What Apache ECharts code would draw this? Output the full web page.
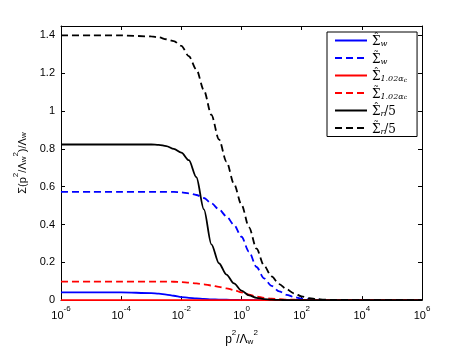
<!DOCTYPE html>
<html>
<head>
<meta charset="utf-8">
<script src="https://cdn.jsdelivr.net/npm/echarts@6/dist/echarts.min.js"></script>
<style>
	html, body { margin: 0; padding: 0; background: #fff; }
	#main { width: 467px; height: 351px; }
</style>
</head>
<body>
<div id="main"></div>
<script>
// x = p^2 / Lambda_w^2 (log spaced)
var xVals = [1e-6, 1e-5, 1e-4, 1e-3, 1.78e-3, 3.16e-3, 5.62e-3, 1e-2, 1.78e-2, 3.16e-2, 5.62e-2,
	0.1, 0.178, 0.316, 0.562, 1, 1.78, 3.16, 5.62, 10, 17.8, 31.6, 56.2, 100, 178, 316, 562, 1000, 1e4, 1e5, 1e6];

var sigWHat = [0.041, 0.041, 0.041, 0.037, 0.034, 0.029, 0.023, 0.016, 0.012, 0.009, 0.006,
	0.004, 0.003, 0.002, 0.001, 0, 0, 0, 0, 0, 0, 0, 0, 0, 0, 0, 0, 0, 0, 0, 0];
var sigWTil = [0.573, 0.573, 0.573, 0.573, 0.573, 0.573, 0.572, 0.570, 0.565, 0.556, 0.540,
	0.512, 0.480, 0.443, 0.398, 0.335, 0.255, 0.175, 0.115, 0.075, 0.046, 0.028, 0.016, 0.008, 0.004, 0.002, 0.001, 0, 0, 0, 0];
var sigCHat = [0, 0, 0, 0, 0, 0, 0, 0, 0, 0, 0,
	0, 0, 0, 0, 0, 0, 0, 0, 0, 0, 0, 0, 0, 0, 0, 0, 0, 0, 0, 0];
var sigCTil = [0.098, 0.098, 0.098, 0.098, 0.098, 0.098, 0.097, 0.095, 0.092, 0.088, 0.083,
	0.077, 0.070, 0.062, 0.053, 0.041, 0.029, 0.019, 0.012, 0.008, 0.005, 0.003, 0.002, 0.001, 0, 0, 0, 0, 0, 0, 0];
var sigRHat = [0.823, 0.823, 0.823, 0.823, 0.821, 0.815, 0.800, 0.780, 0.740, 0.650, 0.480,
	0.295, 0.195, 0.135, 0.088, 0.050, 0.025, 0.012, 0.005, 0.002, 0.001, 0, 0, 0, 0, 0, 0, 0, 0, 0, 0];
var sigRTil = [1.400, 1.400, 1.400, 1.395, 1.390, 1.380, 1.370, 1.345, 1.290, 1.220, 1.110,
	0.980, 0.850, 0.733, 0.615, 0.505, 0.385, 0.272, 0.182, 0.125, 0.085, 0.057, 0.035, 0.020, 0.010, 0.005, 0.003, 0.001, 0, 0, 0];

function pairs(ys) {
	return xVals.map(function(x, i) { return [x, ys[i]]; });
}

// hat / tilde drawn as zero-width accents over the sigma
var legendText = {
	wHat: '{s|Σ}{h|ˆ}{sub|w}',
	wTil: '{s|Σ}{h|˜}{sub|w}',
	cHat: '{s|Σ}{h|ˆ}{sub|1.02α}{ss|c}',
	cTil: '{s|Σ}{h|˜}{sub|1.02α}{ss|c}',
	rHat: '{s|Σ}{h|ˆ}{sub|r}{s|/5}',
	rTil: '{s|Σ}{h|˜}{sub|r}{s|/5}'
};

function mkSeries(name, ys, color, dashed) {
	return {
		name: name,
		type: 'line',
		data: pairs(ys),
		smooth: 0.3,
		smoothMonotone: 'x',
		symbol: 'none',
		lineStyle: { color: color, width: 1.8, type: dashed ? [7, 4] : 'solid' },
		itemStyle: { color: color },
		z: 3
	};
}

var myChart = echarts.init(document.getElementById('main'));
var font = 'Liberation Sans';
var serif = 'DejaVu Serif';

var option = {
	animation: false,
	backgroundColor: '#fff',
	grid: { left: 61, right: 45, top: 26, bottom: 44, show: false },
	legend: {
		left: 327, top: 32,
		orient: 'vertical',
		backgroundColor: '#fff',
		borderColor: '#000', borderWidth: 1,
		padding: [1, 10, 1, 7],
		itemWidth: 32, itemHeight: 12, itemGap: 2.5,
		itemStyle: { opacity: 0 },
		data: ['wHat', 'wTil', 'cHat', 'cTil', 'rHat', 'rTil'],
		formatter: function(name) { return legendText[name]; },
		textStyle: {
			color: '#000',
			rich: {
				s: { fontFamily: serif, fontSize: 12, lineHeight: 15, verticalAlign: 'bottom' },
				h: { fontFamily: serif, fontSize: 11, lineHeight: 15, verticalAlign: 'top', padding: [0, 1.5, 0, -7] },
				sub: { fontFamily: serif, fontSize: 8, fontStyle: 'italic', verticalAlign: 'bottom', lineHeight: 15 },
				ss: { fontFamily: serif, fontSize: 6, fontStyle: 'italic', verticalAlign: 'bottom', lineHeight: 15 }
			}
		}
	},
	xAxis: [{
		type: 'log', logBase: 10, min: 1e-6, max: 1e6, interval: 2,
		name: '{b|p}{sup|2}{b|/Λ}{sub|w}{sup|2}',
		nameLocation: 'middle', nameGap: 20,
		nameTextStyle: {
			color: '#000',
			rich: {
				b: { fontFamily: font, fontSize: 12, color: '#000', verticalAlign: 'bottom', lineHeight: 20 },
				sup: { fontFamily: font, fontSize: 8, color: '#000', verticalAlign: 'top', lineHeight: 20, padding: [3, 0, 0, 0] },
				sub: { fontFamily: font, fontSize: 8, color: '#000', verticalAlign: 'bottom', lineHeight: 20 }
			}
		},
		axisLine: { show: true, onZero: false, lineStyle: { color: '#000', width: 1 } },
		axisTick: { show: true, inside: true, length: 4, lineStyle: { color: '#000' } },
		minorTick: { show: false },
		splitLine: { show: false },
		axisLabel: {
			color: '#000', margin: 5,
			formatter: function(v) {
				var e = Math.round(Math.log10(v));
				return '{b|10}{sup|' + e + '}';
			},
			rich: {
				b: { fontFamily: font, fontSize: 11, color: '#000', verticalAlign: 'bottom', lineHeight: 16 },
				sup: { fontFamily: font, fontSize: 8, color: '#000', verticalAlign: 'top', lineHeight: 16 }
			}
		}
	}, {
		type: 'log', logBase: 10, min: 1e-6, max: 1e6, interval: 2,
		position: 'top',
		axisLine: { show: true, onZero: false, lineStyle: { color: '#000', width: 1 } },
		axisTick: { show: true, inside: true, length: 4, lineStyle: { color: '#000' } },
		axisLabel: { show: false },
		splitLine: { show: false }
	}],
	yAxis: [{
		type: 'value', min: 0, max: 1.45, interval: 0.2,
		name: '{b|Σ(p}{sup|2}{b|/Λ}{sub|w}{sup|2}{b|)/Λ}{sub|w}',
		nameLocation: 'middle', nameGap: 33, nameRotate: 90,
		nameTextStyle: {
			color: '#000',
			rich: {
				b: { fontFamily: font, fontSize: 11, color: '#000', verticalAlign: 'bottom', lineHeight: 18 },
				sup: { fontFamily: font, fontSize: 8, color: '#000', verticalAlign: 'top', lineHeight: 18, padding: [2, 0, 0, 0] },
				sub: { fontFamily: font, fontSize: 8, color: '#000', verticalAlign: 'bottom', lineHeight: 18 }
			}
		},
		axisLine: { show: true, onZero: false, lineStyle: { color: '#000', width: 1 } },
		axisTick: { show: true, inside: true, length: 4, lineStyle: { color: '#000' } },
		splitLine: { show: false },
		axisLabel: {
			color: '#000', fontFamily: font, fontSize: 11, margin: 6,
			showMaxLabel: false,
			formatter: function(v) {
				if (v > 1.41) return '';
				return String(Math.round(v * 10) / 10);
			}
		}
	}, {
		type: 'value', min: 0, max: 1.45, interval: 0.2,
		position: 'right',
		axisLine: { show: true, onZero: false, lineStyle: { color: '#000', width: 1 } },
		axisTick: { show: true, inside: true, length: 4, lineStyle: { color: '#000' } },
		axisLabel: { show: false },
		splitLine: { show: false }
	}],
	series: [
		mkSeries('wHat', sigWHat, '#0000ff', false),
		mkSeries('wTil', sigWTil, '#0000ff', true),
		mkSeries('cHat', sigCHat, '#ff0000', false),
		mkSeries('cTil', sigCTil, '#ff0000', true),
		mkSeries('rHat', sigRHat, '#000000', false),
		mkSeries('rTil', sigRTil, '#000000', true)
	]
};

myChart.setOption(option);
</script>
</body>
</html>
